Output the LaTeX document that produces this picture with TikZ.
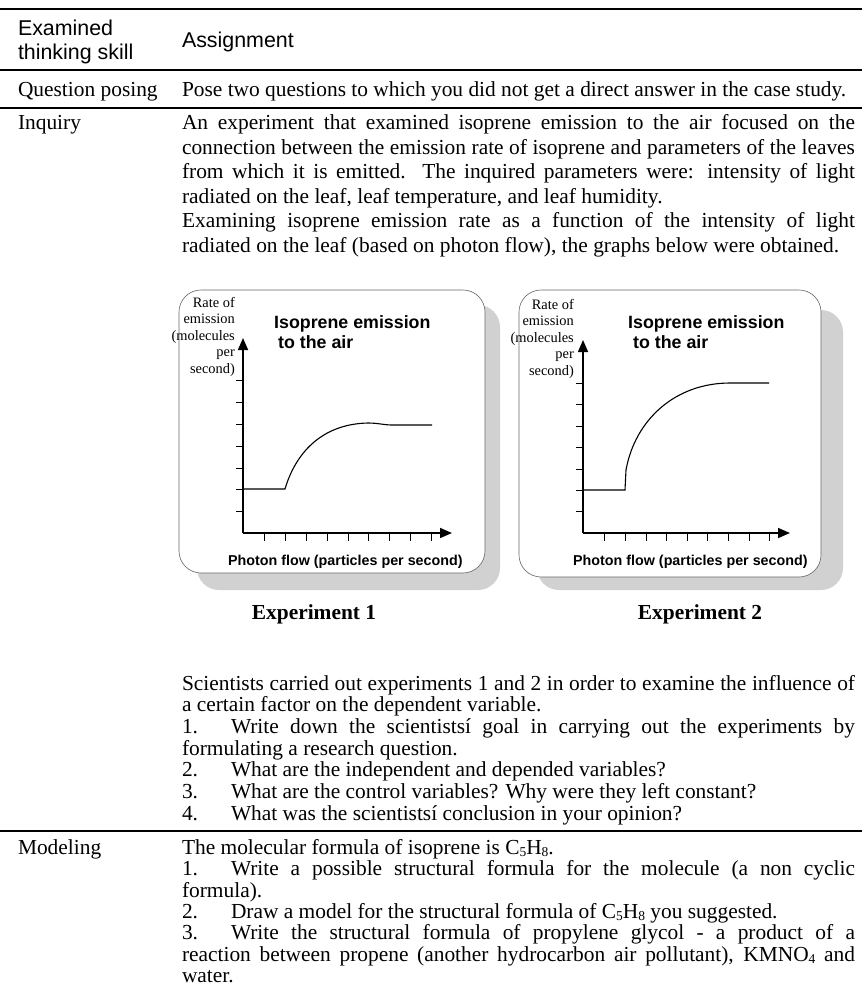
\documentclass[tikz,border=0pt]{standalone}
\usepackage{fontspec}
\setmainfont{Liberation Serif}
\newfontfamily\arialf{Liberation Sans}
\usetikzlibrary{arrows.meta}
\newcommand\jfull[1]{\makebox[673pt][s]{#1}}
\newcommand\jtab[1]{\makebox[624pt][s]{#1}}
\newcommand\chemsub[1]{\raisebox{-2pt}{\fontsize{13.5}{13.5}\selectfont #1}}
\begin{document}
\begin{tikzpicture}[x=1pt,y=-1pt,
  tx/.style={inner sep=0pt, outer sep=0pt, anchor=base west, font=\fontsize{21.4}{24.5}\selectfont},
  hd/.style={tx, font=\fontsize{21.4}{24.5}\selectfont\arialf},
  rule/.style={line width=1.3pt, black},
  card/.style={draw=black!60, line width=0.6pt, fill=white, rounded corners=22pt},
  shadowbox/.style={fill=black!18, rounded corners=22pt},
  axis/.style={line width=1.6pt, -{Triangle[length=12pt,width=10pt]}},
  tick/.style={line width=1pt},
  curve/.style={line width=1.1pt},
  gtitle/.style={inner sep=0pt, anchor=base west, font=\fontsize{17.8}{20}\selectfont\arialf\bfseries},
  ylab/.style={inner sep=0pt, anchor=north east, align=right, font=\fontsize{14.4}{16.5}\selectfont},
  xlab/.style={inner sep=0pt, anchor=base west, font=\fontsize{14.3}{16}\selectfont\arialf\bfseries},
  explab/.style={inner sep=0pt, anchor=base, font=\fontsize{21.4}{24.5}\selectfont\bfseries}
]
\useasboundingbox (0,0) rectangle (862,999);

% ---- table rules
\draw[rule] (0,9) -- (862,9);
\draw[rule] (0,70) -- (862,70);
\draw[rule] (0,108) -- (862,108);
\draw[rule] (0,831) -- (862,831);

% ---- header
\node[hd] (hExam) at (18,35) {Examined};
\node[hd] (hThink) at (18,59) {thinking skill};
\node[hd] (hAssign) at (182,47) {Assignment};

% ---- question posing
\node[tx] (qp) at (18,96) {Question posing};
\node[tx] (qpText) at (182,96) {Pose two questions to which you did not get a direct answer in the case study.};

% ---- inquiry
\node[tx] (inq) at (18,129) {Inquiry};
\node[tx] (i1) at (182,129) {\jfull{An experiment that examined isoprene emission to the air focused on the}};
\node[tx] (i2) at (182,154) {\jfull{connection between the emission rate of isoprene and parameters of the leaves}};
\node[tx] (i3) at (182,178) {\jfull{from which it is emitted. The inquired parameters were: intensity of light}};
\node[tx] (i4) at (182,203) {radiated on the leaf, leaf temperature, and leaf humidity.};
\node[tx] (i5) at (182,227) {\jfull{Examining isoprene emission rate as a function of the intensity of light}};
\node[tx] (i6) at (182,252) {radiated on the leaf (based on photon flow), the graphs below were obtained.};

% ---- graph 1
\fill[shadowbox] (197,305) rectangle (500,590);
\draw[card] (179,290) rectangle (485,573);
\draw[axis] (243,533) -- (243,338);
\draw[axis] (243,533) -- (452,533);
\foreach \yy in {380,402,424,446,468,489,511} \draw[tick] (236,\yy) -- (243,\yy);
\foreach \xx in {264,285,306,327,348,368,389,410,431} \draw[tick] (\xx,533) -- (\xx,541);
\draw[curve] (243,489) -- (285,489) .. controls (295,455) and (320,424) .. (368,423)
  .. controls (378,423) and (384,425) .. (392,425) -- (432,425);
\node[ylab] (g1y) at (235,297) {Rate of\\emission\\(molecules\\per\\second)};
\node[gtitle] (g1t1) at (274,328) {Isoprene emission};
\node[gtitle] (g1t2) at (278,348) {to the air};
\node[xlab] (g1x) at (228,565) {Photon flow (particles per second)};
\node[explab] (e1) at (314,619) {Experiment 1};

% ---- graph 2
\fill[shadowbox] (537,310) rectangle (843,590);
\draw[card] (519,290) rectangle (821,577);
\draw[axis] (583,533) -- (583,340);
\draw[axis] (583,533) -- (790,533);
\foreach \yy in {383,404,426,447,469,490,511} \draw[tick] (576,\yy) -- (583,\yy);
\foreach \xx in {604,625,646,666,687,707,728,749,769} \draw[tick] (\xx,533) -- (\xx,541);
\draw[curve] (583,490) -- (625,490) -- (626,470) .. controls (635,420) and (675,383) .. (730,383) -- (769,383);
\node[ylab] (g2y) at (574,299) {Rate of\\emission\\(molecules\\per\\second)};
\node[gtitle] (g2t1) at (628,328) {Isoprene emission};
\node[gtitle] (g2t2) at (633,348) {to the air};
\node[xlab] (g2x) at (573,565) {Photon flow (particles per second)};
\node[explab] (e2) at (700,619) {Experiment 2};

% ---- inquiry questions
\node[tx] (s1) at (182,690) {\jfull{Scientists carried out experiments 1 and 2 in order to examine the influence of}};
\node[tx] (s2) at (182,711) {a certain factor on the dependent variable.};
\node[tx] (q1n) at (182,733) {1.};
\node[tx] (q1) at (231,733) {\jtab{Write down the scientistsí goal in carrying out the experiments by}};
\node[tx] (q1b) at (182,755) {formulating a research question.};
\node[tx] (q2n) at (182,776) {2.};
\node[tx] (q2) at (231,776) {What are the independent and depended variables?};
\node[tx] (q3n) at (182,798) {3.};
\node[tx] (q3) at (231,798) {What are the control variables? Why were they left constant?};
\node[tx] (q4n) at (182,820) {4.};
\node[tx] (q4) at (231,820) {What was the scientistsí conclusion in your opinion?};

% ---- modeling
\node[tx] (mod) at (18,854) {Modeling};
\node[tx] (m0) at (182,854) {The molecular formula of isoprene is C\chemsub{5}H\chemsub{8}.};
\node[tx] (m1n) at (182,875) {1.};
\node[tx] (m1) at (231,875) {\jtab{Write a possible structural formula for the molecule (a non cyclic}};
\node[tx] (m1b) at (182,897) {formula).};
\node[tx] (m2n) at (182,918) {2.};
\node[tx] (m2) at (231,918) {Draw a model for the structural formula of C\chemsub{5}H\chemsub{8} you suggested.};
\node[tx] (m3n) at (182,939) {3.};
\node[tx] (m3) at (231,939) {\jtab{Write the structural formula of propylene glycol - a product of a}};
\node[tx] (m3b) at (182,961) {\jfull{reaction between propene (another hydrocarbon air pollutant), KMNO\chemsub{4} and}};
\node[tx] (m3c) at (182,982) {water.};
\end{tikzpicture}
\end{document}
